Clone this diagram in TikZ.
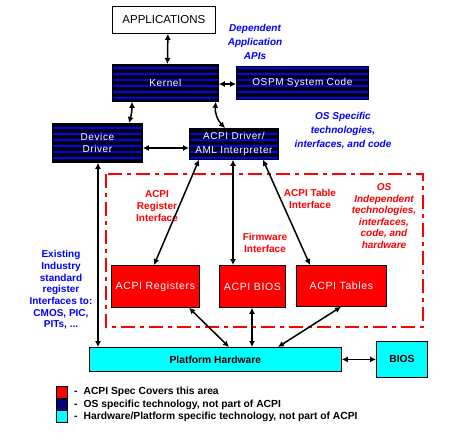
\documentclass[tikz,border=0pt]{standalone}
\usepackage{fontspec}
\setmainfont{Liberation Sans}
\newfontfamily\boxfont[LetterSpace=6]{Liberation Sans}
\usetikzlibrary{arrows.meta,patterns.meta}
\definecolor{acpired}{RGB}{255,0,0}
\definecolor{hwcyan}{RGB}{0,255,255}
\definecolor{osblue}{RGB}{0,0,255}
\definecolor{navy}{RGB}{0,0,128}
\tikzset{
  darkbox/.style={draw=black, preaction={fill=black},
    pattern={Lines[angle=0, distance=6pt, line width=1.3pt]}, pattern color=osblue,
    line width=0.8pt, inner sep=0pt, anchor=north west,
    text=white, font=\boxfont\fontsize{10}{12.5}\selectfont, align=center},
  redbox/.style={draw=black, fill=acpired, line width=0.8pt, inner sep=0pt, anchor=north west,
    text=white, font=\boxfont\fontsize{10.5}{12}\selectfont},
  cyanbox/.style={draw=black, fill=hwcyan, line width=0.8pt, inner sep=0pt, anchor=north west,
    font=\bfseries\fontsize{10.3}{12}\selectfont},
  whitebox/.style={draw=black, fill=white, line width=0.8pt, inner sep=0pt, anchor=north west,
    font=\fontsize{11.5}{13}\selectfont},
  bluelabel/.style={text=osblue, font=\bfseries\itshape\fontsize{10}{14}\selectfont, align=center},
  bluelabelup/.style={text=osblue, font=\bfseries\fontsize{10}{11.7}\selectfont, align=center},
  redlabel/.style={text=acpired, font=\bfseries\fontsize{10}{12}\selectfont, align=center},
  redlabelit/.style={text=acpired, font=\bfseries\itshape\fontsize{10}{11.5}\selectfont, align=center},
  conn/.style={line width=1.5pt, {Latex[length=6pt,width=6pt]}-{Latex[length=6pt,width=6pt]}},
  legsq/.style={draw=black, line width=0.6pt, minimum width=11pt, minimum height=12pt, inner sep=0pt, anchor=north west},
  legtext/.style={anchor=west, font=\bfseries\fontsize{10.3}{12}\selectfont, inner sep=0pt},
  spec/.style={draw=acpired, line width=2pt, dash pattern=on 14pt off 5pt on 4pt off 5pt}
}
\begin{document}
\begin{tikzpicture}[x=1pt,y=-1pt]
\useasboundingbox (0,0) rectangle (465,440);
\fill[white] (0,0) rectangle (465,440);

% OS independent area
\draw[spec] (106,174) rectangle (423,327);

% Boxes
\node[whitebox, minimum width=103pt, minimum height=27pt] (app) at (112,6) {APPLICATIONS};
\node[darkbox, minimum width=106pt, minimum height=37pt] (kernel) at (112,64) {Kernel};
\node[darkbox, minimum width=132pt, minimum height=33pt] (ospm) at (236,66) {OSPM System Code};
\node[darkbox, minimum width=90pt, minimum height=39pt, text width=90pt] (dd) at (52,123) {Device\\Driver};
\node[darkbox, minimum width=89pt, minimum height=31pt, font=\boxfont\fontsize{10}{14}\selectfont] (acpi) at (189,128) {ACPI Driver/\\AML Interpreter};
\node[redbox, minimum width=88pt, minimum height=42pt] (regs) at (111,265) {ACPI Registers};
\node[redbox, minimum width=66pt, minimum height=42pt] (abios) at (219,265) {ACPI BIOS};
\node[redbox, minimum width=90pt, minimum height=41pt] (tables) at (296,265) {ACPI Tables};
\node[cyanbox, minimum width=252pt, minimum height=24pt] (ph) at (89,347) {Platform Hardware};
\node[cyanbox, minimum width=51pt, minimum height=36pt] (bios) at (376,341) {BIOS};

% Labels
\node[bluelabel] (lbl1) at (255,42) {Dependent\\Application\\APIs};
\node[bluelabel] (lbl2) at (343,131) {OS Specific\\technologies,\\interfaces, and code};
\node[redlabel] (lbl3) at (157,206) {ACPI\\Register\\Interface};
\node[redlabel] (lbl4) at (310,199) {ACPI Table\\Interface};
\node[redlabel] (lbl5) at (265,243) {Firmware\\Interface};
\node[redlabelit] (lbl6) at (384,216) {OS\\Independent\\technologies,\\interfaces,\\code, and\\hardware};
\node[bluelabelup] (lbl7) at (61,290) {Existing\\Industry\\standard\\register\\Interfaces to:\\CMOS, PIC,\\PITs, ...};

% Connectors
\draw[conn] ([xshift=4pt]app.south) -- ([xshift=2pt]kernel.north);
\draw[conn] (kernel.east |- 0,84) -- (ospm.west |- 0,84);
\draw[conn] ([xshift=20pt]kernel.south west) to[bend left=8] ([xshift=77pt]dd.north west);
\draw[conn] ([xshift=-3pt]kernel.south east) to[bend right=25] ([xshift=36pt]acpi.north west);
\draw[conn] (dd.east |- 0,148) -- (acpi.west |- 0,148);
\draw[conn] ([xshift=46pt]dd.south west) -- ([xshift=9pt]ph.north west);
\draw[conn] ([xshift=10pt]acpi.south west) -- ([xshift=43pt]regs.north west);
\draw[conn] ([xshift=44pt]acpi.south west) -- ([xshift=14pt]abios.north west);
\draw[conn] ([xshift=74pt]acpi.south west) -- ([xshift=14pt]tables.north west);
\draw[conn] ([xshift=78pt]regs.south west) -- ([xshift=140pt]ph.north west);
\draw[conn] ([xshift=33pt]abios.south west) -- ([xshift=163pt]ph.north west);
\draw[conn] ([xshift=45pt]tables.south west) -- ([xshift=189pt]ph.north west);
\draw[conn] (ph.east) -- (bios.west |- ph.east);

% Legend
\node[legsq, fill=acpired] (sq1) at (56,386) {};
\node[legsq, fill=navy] (sq2) at (56,398) {};
\node[legsq, fill=hwcyan] (sq3) at (56,410) {};
\node[legtext] (t1) at (74,392) {-\hspace{6pt}ACPI Spec Covers this area};
\node[legtext] (t2) at (74,404.5) {-\hspace{6pt}OS specific technology, not part of ACPI};
\node[legtext] (t3) at (74,417) {-\hspace{6pt}Hardware/Platform specific technology, not part of ACPI};
\end{tikzpicture}
\end{document}
